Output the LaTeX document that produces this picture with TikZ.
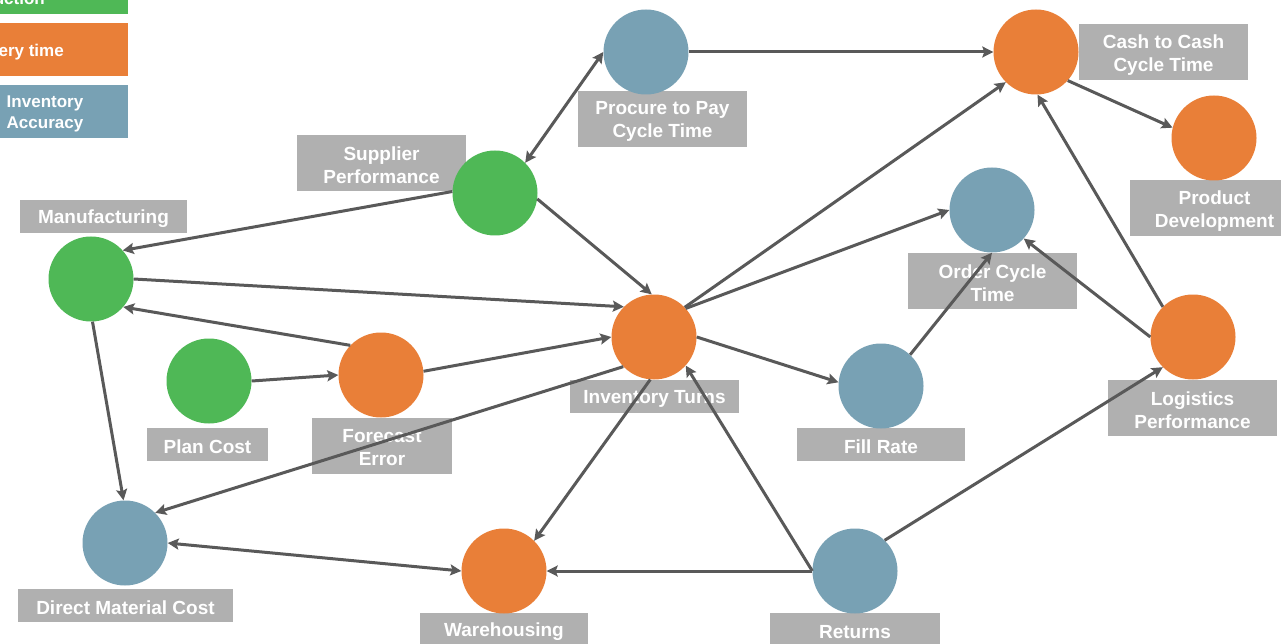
\documentclass[tikz,border=0pt]{standalone}
\usepackage{fontspec}
\setmainfont{Liberation Sans}
\usetikzlibrary{arrows.meta}
\definecolor{cgreen}{RGB}{79,184,86}
\definecolor{corange}{RGB}{233,127,56}
\definecolor{cblue}{RGB}{120,161,180}
\definecolor{cgray}{RGB}{176,176,176}
\definecolor{cline}{RGB}{89,89,89}
\begin{document}
\begin{tikzpicture}[x=1pt,y=-1pt,
  kpi/.style={circle,minimum size=85pt,inner sep=0pt},
  lab/.style={fill=cgray,inner sep=0pt,minimum width=169pt,minimum height=33pt},
  lab2/.style={lab,minimum height=56pt},
  labtext/.style={text=white,font=\bfseries\fontsize{19}{23}\selectfont,align=center,inner sep=0pt},
  legtext/.style={text=white,font=\bfseries\fontsize{17}{21}\selectfont,align=center,inner sep=0pt},
  link/.style={draw=cline,line width=3pt,-{Stealth[length=11pt,width=11pt,inset=2pt]}},
  blink/.style={draw=cline,line width=3pt,{Stealth[length=11pt,width=11pt,inset=2pt]}-{Stealth[length=11pt,width=11pt,inset=2pt]}}]
\useasboundingbox (0,0) rectangle (1281,644);
\clip (0,0) rectangle (1281,644);
\fill[white] (0,0) rectangle (1281,644);
% legend
\fill[cgreen] (-60,-40) rectangle (128,14);
\fill[corange] (-60,23) rectangle (128,76);
\fill[cblue] (-60,85) rectangle (128,138);
\node[legtext,anchor=base east] (lg1) at (45,5) {uction};
\node[legtext,anchor=base east] (lg2) at (64,57) {ery time};
\node[legtext] (lg3) at (45,114) {Inventory\\Accuracy};
% labels
\node[lab2] (lpro) at (662.5,119) {};
\node[labtext] (tpro) at ([yshift=-2.5pt]lpro.center) {Procure to Pay\\Cycle Time};
\node[lab2] (lcash) at (1163.5,52.5) {};
\node[labtext] (tcash) at ([yshift=-2.5pt]lcash.center) {Cash to Cash\\Cycle Time};
\node[lab2] (lprod) at (1214.5,208.5) {};
\node[labtext] (tprod) at ([yshift=-2.5pt]lprod.center) {Product\\Development};
\node[lab2] (lsup) at (381.5,163) {};
\node[labtext] (tsup) at ([yshift=-2.5pt]lsup.center) {Supplier\\Performance};
\node[lab,minimum width=167pt] (lman) at (103.5,216.5) {};
\node[labtext] (tman) at ([yshift=-2.5pt]lman.center) {Manufacturing};
\node[lab2] (loc) at (992.5,280.5) {};
\node[labtext] (toc) at ([yshift=-2.5pt]loc.center) {Order Cycle\\Time};
\node[lab] (lit) at (654.5,396) {};
\node[labtext] (tit) at ([yshift=-2.5pt]lit.center) {Inventory Turns};
\node[lab,minimum width=121pt] (lplan) at (207.5,444) {};
\node[labtext] (tplan) at ([yshift=-2.5pt]lplan.center) {Plan Cost};
\node[lab2,minimum width=140pt] (lfe) at (382,445.5) {};
\node[labtext] (tfe) at ([yshift=-2.5pt]lfe.center) {Forecast\\Error};
\node[lab,minimum width=168pt] (lfr) at (881,444.5) {};
\node[labtext] (tfr) at ([yshift=-2.5pt]lfr.center) {Fill Rate};
\node[lab2] (llog) at (1192.5,408) {};
\node[labtext] (tlog) at ([yshift=-2.5pt]llog.center) {Logistics\\Performance};
\node[lab,minimum width=215pt] (ldmc) at (125.5,605.5) {};
\node[labtext] (tdmc) at ([yshift=-2.5pt]ldmc.center) {Direct Material Cost};
\node[lab,minimum width=168pt] (lwh) at (504,629.5) {};
\node[labtext] (twh) at ([yshift=-2.5pt]lwh.center) {Warehousing};
\node[lab,minimum width=170pt] (lret) at (855,629.5) {};
\node[labtext] (tret) at ([yshift=-2.5pt]lret.center) {Returns};
% circles
\node[kpi,fill=cblue] (pro) at (646,52) {};
\node[kpi,fill=corange] (cash) at (1036,52) {};
\node[kpi,fill=corange] (prod) at (1214,138) {};
\node[kpi,fill=cgreen] (sup) at (495,193) {};
\node[kpi,fill=cgreen] (man) at (91,279) {};
\node[kpi,fill=cblue] (oc) at (992,210) {};
\node[kpi,fill=corange] (it) at (654,337) {};
\node[kpi,fill=cgreen] (plan) at (209,381) {};
\node[kpi,fill=corange] (fe) at (381,375) {};
\node[kpi,fill=cblue] (fr) at (881,386) {};
\node[kpi,fill=corange] (log) at (1193,337) {};
\node[kpi,fill=cblue] (dmc) at (125,543) {};
\node[kpi,fill=corange] (wh) at (504,571) {};
\node[kpi,fill=cblue] (ret) at (855,571) {};
% connectors
\draw[link] (pro.east) -- (cash.west);
\draw[blink] (sup.45) -- (pro.180);
\draw[link] (cash.-42) -- (prod.166);
\draw[link] (sup.178) -- (man.42);
\draw[link] (sup.-8) -- (it.93);
\draw[link] (man.east) -- (it.135);
\draw[link] (fe.136) -- (man.-41);
\draw[link] (plan.east) -- (fe.west);
\draw[link] (fe.5) -- (it.west);
\draw[link] (man.-88) -- (dmc.92);
\draw[link] (it.224) -- (dmc.45);
\draw[blink] (dmc.east) -- (wh.west);
\draw[link] (it.265) -- (wh.45);
\draw[link] (ret.west) -- (wh.east);
\draw[link] (ret.west) -- (it.-42);
\draw[link] (ret.46) -- (log.225);
\draw[link] (it.44) -- (cash.225);
\draw[link] (it.42) -- (oc.180);
\draw[link] (it.0) -- (fr.175);
\draw[link] (fr.47) -- (oc.-90);
\draw[link] (log.180) -- (oc.-42);
\draw[link] (log.135) -- (cash.-88);
\end{tikzpicture}
\end{document}
